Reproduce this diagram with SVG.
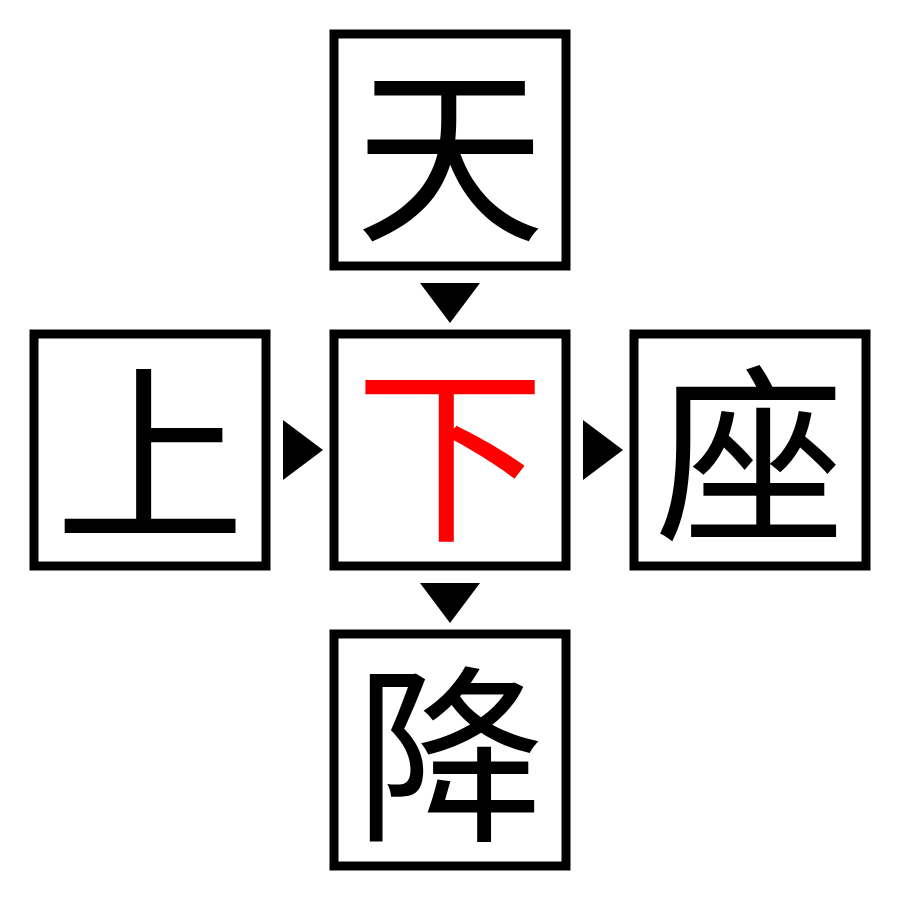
<svg xmlns="http://www.w3.org/2000/svg" width="900" height="900" viewBox="0 0 900 900">
<style>
.b{fill:#fff;stroke:#000;stroke-width:9}
.t{font-family:"Noto Sans CJK SC","Noto Sans CJK JP",serif;font-size:190px;font-weight:400;text-anchor:middle;dominant-baseline:central;fill:#000}
</style>
<rect width="900" height="900" fill="#fff"/>
<g id="n-tian"><rect class="b" x="334" y="34" width="232" height="232"/><text class="t" x="450" y="143">天</text></g>
<g id="n-shang"><rect class="b" x="34" y="334" width="232" height="232"/><text class="t" x="150" y="443">上</text></g>
<g id="n-xia"><rect class="b" x="334" y="334" width="232" height="232"/><text class="t" x="450" y="443" style="fill:#f00">下</text></g>
<g id="n-zuo"><rect class="b" x="634" y="334" width="232" height="232"/><text class="t" x="750" y="443">座</text></g>
<g id="n-jiang"><rect class="b" x="334" y="634" width="232" height="232"/><text class="t" x="450" y="743">降</text></g>
<g id="connectors" fill="#000">
<polygon points="420,283 480,283 450,323"/>
<polygon points="283,420 283,480 323,450"/>
<polygon points="583,420 583,480 623,450"/>
<polygon points="420,583 480,583 450,623"/>
</g>
</svg>
